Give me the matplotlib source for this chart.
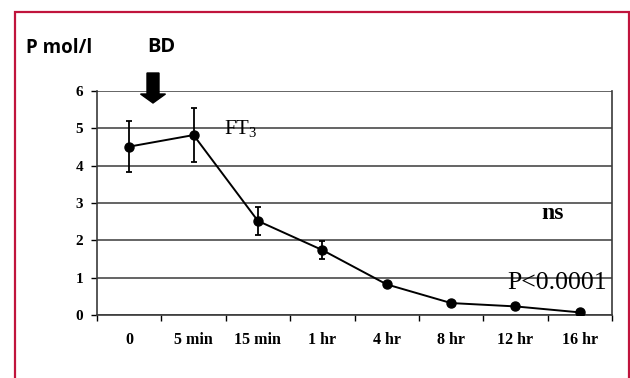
#!/usr/bin/env python3
# -*- coding: utf-8 -*-
"""FT3 after brain death: mean +/- error over time"""

import matplotlib
matplotlib.use("Agg")
import matplotlib.pyplot as plt
from matplotlib.patches import Rectangle, FancyArrow

# Data
time_labels = ['0', '5 min', '15 min', '1 hr', '4 hr', '8 hr', '12 hr', '16 hr']
ft3_mean = [4.51, 4.82, 2.52, 1.74, 0.82, 0.32, 0.23, 0.07]
ft3_err = [0.68, 0.73, 0.38, 0.25, 0.07, 0.0, 0.0, 0.0]
y_ticks = [0, 1, 2, 3, 4, 5, 6]

SERIF = 'Liberation Serif'
SANS = 'Open Sans'
plt.rcParams['mathtext.fontset'] = 'custom'
plt.rcParams['mathtext.rm'] = SERIF
plt.rcParams['mathtext.it'] = SERIF + ':italic'

fig = plt.figure(figsize=(6.3, 3.78), dpi=100)
W, H = 630, 378

# crimson frame (bottom edge runs off the picture)
fig.patches.append(Rectangle((15 / W, -0.05), (629 - 15) / W, 1.05 - 12 / H,
                             transform=fig.transFigure, fill=False,
                             edgecolor='#c0143c', linewidth=1.6))

ax = fig.add_axes([97 / W, 1 - 315 / H, (612 - 97) / W, (315 - 91) / H])

x_pos = list(range(len(time_labels)))
ax.errorbar(x_pos, ft3_mean, yerr=ft3_err, color='black', marker='o',
            markersize=6.5, linewidth=1.4, elinewidth=1.3, capsize=2.5,
            capthick=1.3, zorder=3)

ax.set_xlim(-0.5, len(time_labels) - 0.5)
ax.set_ylim(0, 6)
ax.set_yticks(y_ticks)
ax.set_yticklabels([str(v) for v in y_ticks], fontfamily=SERIF,
                   fontweight='bold', fontsize=11)
ax.set_xticks([i - 0.5 for i in range(len(time_labels) + 1)])
ax.set_xticklabels([])
ax.set_xticks(x_pos, minor=True)
ax.set_xticklabels(time_labels, minor=True, fontfamily=SERIF,
                   fontweight='bold', fontsize=11.5)
ax.tick_params(axis='x', which='minor', length=0, pad=12)
ax.tick_params(axis='x', which='major', length=4, direction='out', width=1)
ax.tick_params(axis='y', length=4, direction='out', width=1, pad=6)

ax.grid(True, axis='y', color='#3a3a3a', linewidth=1.1)
for s in ['left', 'bottom', 'right']:
    ax.spines[s].set_color('#3a3a3a')
    ax.spines[s].set_linewidth(1.2)
ax.spines['top'].set_visible(False)

# annotations
fig.text(26 / W, 1 - 48 / H, 'P mol/l', fontfamily=SANS, fontweight='bold',
         fontsize=13.5, va='center', ha='left')
fig.text(147 / W, 1 - 47 / H, 'BD', fontfamily=SANS, fontweight='bold',
         fontsize=14.5, va='center', ha='left')
fig.patches.append(FancyArrow(153 / W, 1 - 73 / H, 0, -(103 - 73) / H,
                              width=12 / W, head_width=25 / W,
                              head_length=9 / H, length_includes_head=True,
                              transform=fig.transFigure, color='black'))
ax.text(1.48, 5.0, r'$\mathrm{FT}_3$', fontsize=15, va='center', ha='left')
ax.text(6.4, 2.72, 'ns', fontfamily=SERIF, fontweight='bold', fontsize=17,
        va='center', ha='left')
ax.text(7.42, 0.87, 'P<0.0001', fontfamily=SERIF, fontsize=18.5,
        va='center', ha='right')

plt.savefig('out.png', dpi=100)
plt.close()
